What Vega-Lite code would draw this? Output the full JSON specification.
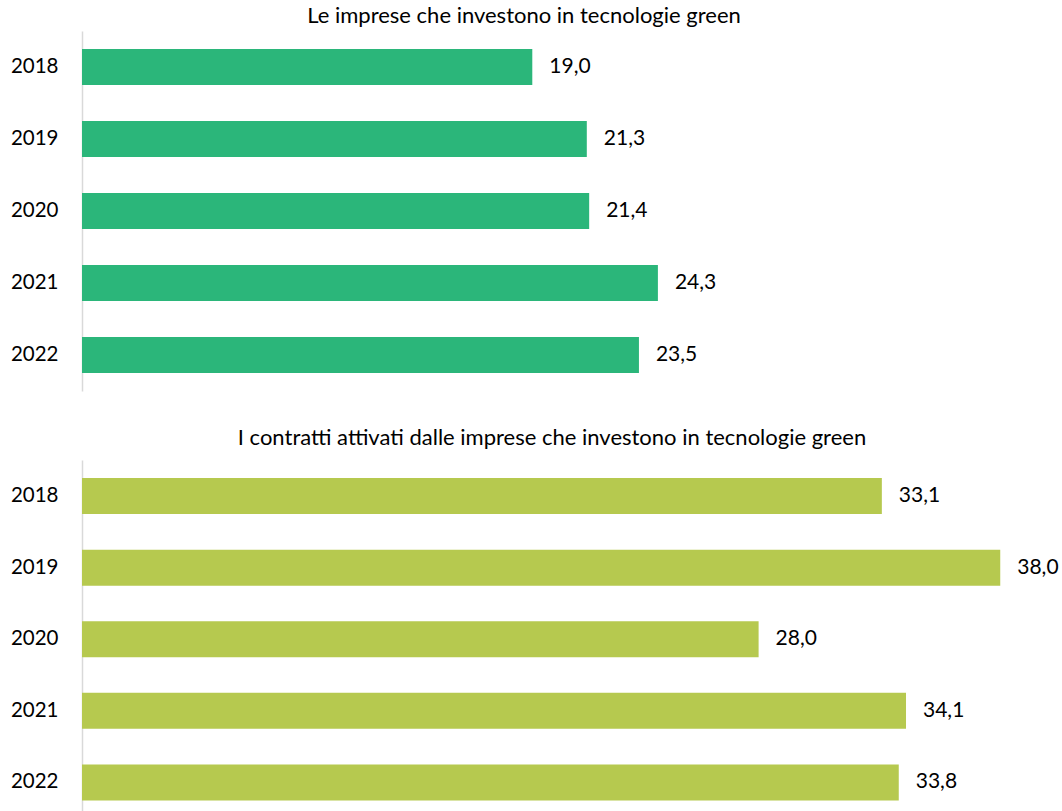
{
  "$schema": "https://vega.github.io/schema/vega-lite/v6.json",
  "padding": {"left": 10, "top": 5, "right": 0, "bottom": 0},
  "background": "white",
  "config": {
    "font": "Lato",
    "view": {"stroke": null},
    "concat": {"spacing": 36},
    "locale": {"number": {"decimal": ",", "thousands": ".", "grouping": [3], "currency": ["", " €"]}},
    "title": {"fontSize": 22, "fontWeight": "normal", "color": "black", "font": "Lato", "anchor": "middle"},
    "axis": {"labelFont": "Lato"}
  },
  "datasets": {
    "imprese": [
      {"anno": "2018", "valore": 19.0},
      {"anno": "2019", "valore": 21.3},
      {"anno": "2020", "valore": 21.4},
      {"anno": "2021", "valore": 24.3},
      {"anno": "2022", "valore": 23.5}
    ],
    "contratti": [
      {"anno": "2018", "valore": 33.1},
      {"anno": "2019", "valore": 38.0},
      {"anno": "2020", "valore": 28.0},
      {"anno": "2021", "valore": 34.1},
      {"anno": "2022", "valore": 33.8}
    ]
  },
  "vconcat": [
    {
      "title": {"text": "Le imprese che investono in tecnologie green", "offset": 3},
      "data": {"name": "imprese"},
      "width": 884,
      "height": 360,
      "encoding": {
        "y": {"field": "anno", "type": "nominal", "sort": null,
          "scale": {"paddingInner": 0.5, "paddingOuter": 0.25},
          "axis": {"title": null, "domain": true, "domainColor": "#d9d9d9", "domainWidth": 1.5, "ticks": false, "grid": false, "labelFontSize": 20.5, "labelColor": "black", "labelPadding": 24}},
        "x": {"field": "valore", "type": "quantitative", "scale": {"domain": [0, 37.3]}, "axis": null}
      },
      "layer": [
        {"mark": {"type": "bar", "color": "#2BB67A"}},
        {"mark": {"type": "text", "align": "left", "baseline": "middle", "dx": 17, "fontSize": 21, "color": "black"},
         "encoding": {"text": {"field": "valore", "type": "quantitative", "format": ".1f"}}}
      ]
    },
    {
      "title": {"text": "I contratti attivati dalle imprese che investono in tecnologie green", "offset": 10},
      "data": {"name": "contratti"},
      "width": 940,
      "height": 352,
      "encoding": {
        "y": {"field": "anno", "type": "nominal", "sort": null,
          "scale": {"paddingInner": 0.497, "paddingOuter": 0.207, "align": 0.61},
          "axis": {"title": null, "domain": true, "domainColor": "#d9d9d9", "domainWidth": 1.5, "ticks": false, "grid": false, "labelFontSize": 20.5, "labelColor": "black", "labelPadding": 24}},
        "x": {"field": "valore", "type": "quantitative", "scale": {"domain": [0, 38.9]}, "axis": null}
      },
      "layer": [
        {"mark": {"type": "bar", "color": "#B6C94F"}},
        {"mark": {"type": "text", "align": "left", "baseline": "middle", "dx": 17, "fontSize": 21, "color": "black"},
         "encoding": {"text": {"field": "valore", "type": "quantitative", "format": ".1f"}}}
      ]
    }
  ]
}
